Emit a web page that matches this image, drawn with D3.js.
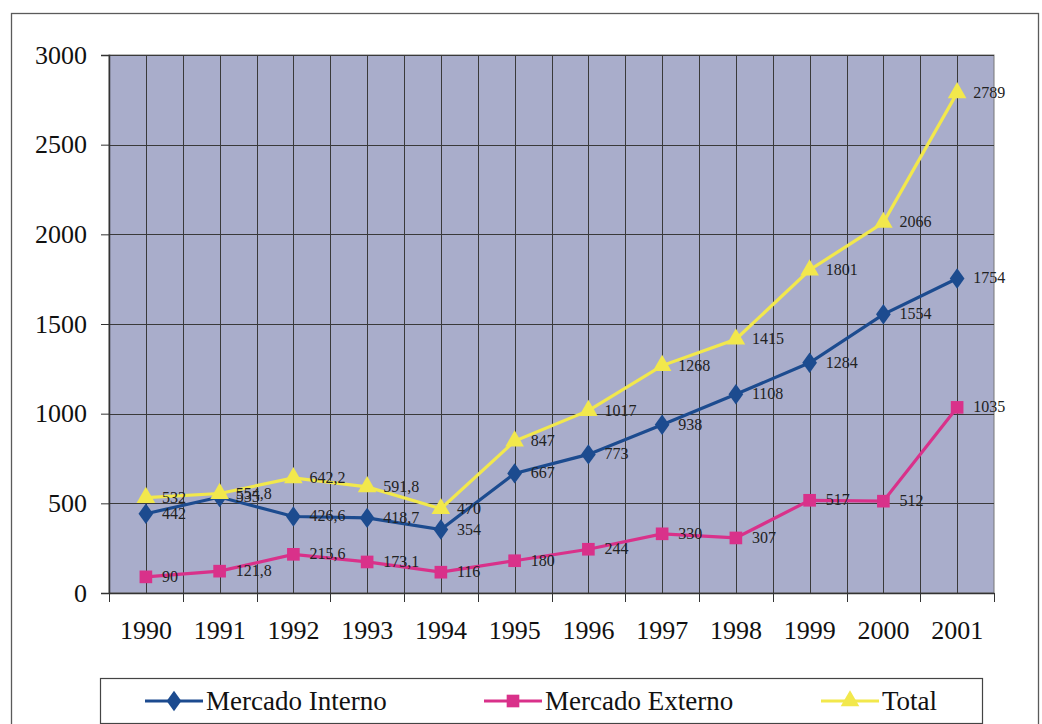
<!DOCTYPE html>
<html><head><meta charset="utf-8">
<script src="https://cdn.jsdelivr.net/npm/d3@7"></script>
<style>body{margin:0;background:#fff}svg{display:block}</style>
</head><body>
<svg id="c" width="1042" height="724"></svg>
<script>
const years = ["1990","1991","1992","1993","1994","1995","1996","1997","1998","1999","2000","2001"];
const interno = [442,535,426.6,418.7,354,667,773,938,1108,1284,1554,1754];
const externo = [90,121.8,215.6,173.1,116,180,244,330,307,517,512,1035];
const total = [532,554.8,642.2,591.8,470,847,1017,1268,1415,1801,2066,2789];
const yTicks = [0,500,1000,1500,2000,2500,3000];
const seriesNames = ["Mercado Interno","Mercado Externo","Total"];

const svg = d3.select("#c");
const font = "'Liberation Serif','Times New Roman',serif";
const L = 109, R = 994, T = 55, B = 593;
const x = d3.scaleBand().domain(years).range([L, R]);
const y = d3.scaleLinear().domain([0, 3000]).range([B, T]);
const cx = d => x(d) + x.bandwidth()/2;

// outer border
svg.append("rect").attr("x",11.5).attr("y",13.5).attr("width",1027).attr("height",730)
  .attr("fill","none").attr("stroke","#5a5a5a").attr("stroke-width",1.3);

// plot bg
svg.append("rect").attr("x",L).attr("y",T).attr("width",R-L).attr("height",B-T).attr("fill","#a9adcb")
  .attr("stroke","#777").attr("stroke-width",1);

const grid = svg.append("g").attr("stroke","#3a3a3a").attr("stroke-width",1);
yTicks.forEach(t => grid.append("line").attr("x1",L).attr("x2",R).attr("y1",Math.round(y(t))+0.5).attr("y2",Math.round(y(t))+0.5));
years.forEach((yr,i) => {
  const xb = Math.round(x(yr))+0.5, xc = Math.round(cx(yr))+0.5;
  if (i>0) grid.append("line").attr("x1",xb).attr("x2",xb).attr("y1",T).attr("y2",B);
  grid.append("line").attr("x1",xc).attr("x2",xc).attr("y1",T).attr("y2",B);
});

// y axis
const ya = svg.append("g").attr("transform",`translate(${L},0)`)
  .call(d3.axisLeft(y).tickValues(yTicks).tickSize(8).tickPadding(14).tickFormat(d3.format("d")));
ya.select(".domain").attr("stroke","#333").attr("stroke-width",1.5);
ya.selectAll("line").attr("stroke","#333");
ya.selectAll("text").attr("font-family",font).attr("font-size",26).attr("fill","#111");

// x axis
const xa = svg.append("g").attr("transform",`translate(0,${B})`)
  .call(d3.axisBottom(x).tickSize(0).tickPadding(28));
xa.select(".domain").attr("stroke","#333").attr("stroke-width",1.5);
xa.selectAll("text").attr("font-family",font).attr("font-size",26).attr("fill","#111");
const bounds = years.map(yr => x(yr)).concat([R]);
svg.append("g").selectAll("line").data(bounds).join("line")
  .attr("x1",d=>Math.round(d)+0.5).attr("x2",d=>Math.round(d)+0.5).attr("y1",B).attr("y2",B+9)
  .attr("stroke","#333").attr("stroke-width",1);

const colors = ["#1c4b8f","#d9318a","#f2e84c"];
const datas = [interno, externo, total];
const sym = [d3.symbolDiamond, d3.symbolSquare, d3.symbolTriangle];
const sizes = [120, 160, 150];
const fmt = v => String(v).replace(".", ",");

datas.forEach((data,k) => {
  const g = svg.append("g");
  g.append("path").datum(data)
    .attr("d", d3.line().x((d,i)=>cx(years[i])).y(d=>y(d)))
    .attr("fill","none").attr("stroke",colors[k]).attr("stroke-width",3.2);
  g.selectAll("path.m").data(data).join("path").attr("class","m")
    .attr("transform",(d,i)=>`translate(${cx(years[i])},${y(d)})${k===0?" scale(1.25,1)":""}`)
    .attr("d", d3.symbol().type(sym[k]).size(sizes[k])).attr("fill",colors[k]);
});
datas.forEach((data,k) => {
  svg.append("g").selectAll("text").data(data).join("text")
    .attr("x",(d,i)=>cx(years[i])+16).attr("y",d=>y(d)+5)
    .attr("font-family",font).attr("font-size",16).attr("fill","#222")
    .text(d=>fmt(d));
});

// legend
svg.append("rect").attr("x",100.5).attr("y",678.5).attr("width",882).attr("height",45)
  .attr("fill","#fff").attr("stroke","#444").attr("stroke-width",1.2);
const legX = [145, 484, 821];
seriesNames.forEach((n,k) => {
  const g = svg.append("g");
  g.append("line").attr("x1",legX[k]).attr("x2",legX[k]+58).attr("y1",701).attr("y2",701)
    .attr("stroke",colors[k]).attr("stroke-width",3.2);
  g.append("path").attr("transform",`translate(${legX[k]+29},701)${k===0?" scale(1.25,1)":""}`)
    .attr("d", d3.symbol().type(sym[k]).size(sizes[k])).attr("fill",colors[k]);
  g.append("text").attr("x",legX[k]+61).attr("y",710).attr("font-family",font).attr("font-size",27)
    .attr("fill","#111").text(n);
});
</script>
</body></html>
